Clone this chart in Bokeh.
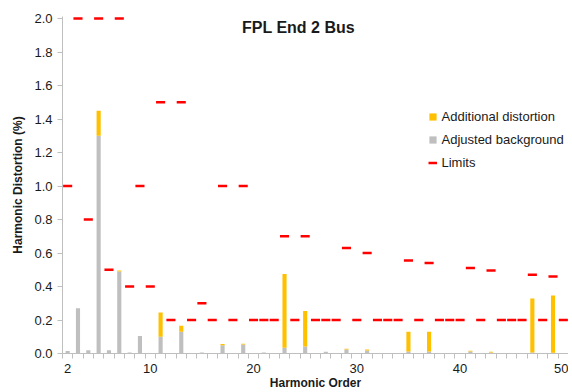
from bokeh.plotting import figure
from bokeh.models import (Range1d, FixedTicker, PrintfTickFormatter, Legend, LegendItem,
                          Label, ColumnDataSource)
from bokeh.embed import file_html
from bokeh.resources import INLINE

# ---- data (harmonic orders 2..50) ----
harmonics = list(range(2, 51))
background = [0.015, 0.27, 0.02, 1.30, 0.02, 0.49, 0.006, 0.105, 0.0, 0.10,
              0.0, 0.13, 0.0, 0.006, 0.003, 0.05, 0.0, 0.054, 0.003, 0.006,
              0.0, 0.035, 0.0, 0.042, 0.003, 0.01, 0.003, 0.024, 0.0, 0.018,
              0.0, 0.003, 0.002, 0.012, 0.0, 0.012, 0.002, 0.0, 0.0, 0.012,
              0.0, 0.006, 0.0, 0.0, 0.0, 0.006, 0.0, 0.004, 0.0]
additional = [0.0, 0.0, 0.0, 0.15, 0.0, 0.005, 0.0, 0.0, 0.0, 0.145,
              0.0, 0.035, 0.0, 0.0, 0.0, 0.006, 0.0, 0.004, 0.0, 0.0,
              0.0, 0.44, 0.0, 0.212, 0.0, 0.0, 0.0, 0.004, 0.0, 0.006,
              0.0, 0.0, 0.0, 0.118, 0.0, 0.118, 0.0, 0.0, 0.0, 0.004,
              0.0, 0.004, 0.0, 0.0, 0.0, 0.322, 0.0, 0.342, 0.0]
limits = [1.0, 2.0, 0.8, 2.0, 0.5, 2.0, 0.4, 1.0, 0.4, 1.5,
          0.2, 1.5, 0.2, 0.3, 0.2, 1.0, 0.2, 1.0, 0.2, 0.2,
          0.2, 0.7, 0.2, 0.7, 0.2, 0.2, 0.2, 0.63, 0.2, 0.6,
          0.2, 0.2, 0.2, 0.555, 0.2, 0.54, 0.2, 0.2, 0.2, 0.51,
          0.2, 0.495, 0.2, 0.2, 0.2, 0.47, 0.2, 0.46, 0.2]
x_tick_labels = [2, 10, 20, 30, 40, 50]
y_ticks = [0.0, 0.2, 0.4, 0.6, 0.8, 1.0, 1.2, 1.4, 1.6, 1.8, 2.0]

FONT = "Liberation Sans"
TXT = "#1a1a1a"
AXIS = "#bfbfbf"
ORANGE = "#ffc000"
GRAY = "#bfbfbf"
RED = "#ff0000"

half = 0.44
src = ColumnDataSource(dict(
    h=harmonics, bg=background, add=additional, lim=limits,
    x0=[h - half for h in harmonics], x1=[h + half for h in harmonics],
))

p = figure(width=568, height=392, output_backend="svg", toolbar_location=None,
           x_range=Range1d(harmonics[0] - 0.5, harmonics[-1] + 0.5),
           y_range=Range1d(0, 2.012),
           min_border_left=62, min_border_right=0, min_border_top=16, min_border_bottom=39)
p.outline_line_color = None
p.xgrid.visible = False
p.ygrid.visible = False
p.background_fill_color = "white"
p.border_fill_color = "white"

bars = p.vbar_stack(["bg", "add"], x="h", width=0.4, color=[GRAY, ORANGE],
                    line_color=None, source=src)
lim_r = p.segment(x0="x0", x1="x1", y0="lim", y1="lim", line_color=RED,
                  line_width=2.5, source=src)

# axes
xa = p.xaxis[0]
xa.ticker = FixedTicker(ticks=x_tick_labels,
                        minor_ticks=[h - 0.5 for h in harmonics] + [harmonics[-1] + 0.5])
xa.axis_line_color = AXIS
xa.major_tick_line_color = None
xa.major_tick_out = 5
xa.major_tick_in = 0
xa.minor_tick_line_color = AXIS
xa.minor_tick_out = 5
xa.minor_tick_in = 0
xa.major_label_standoff = 5
xa.major_label_text_font = FONT
xa.major_label_text_font_size = "13px"
xa.major_label_text_color = TXT
xa.axis_label = "Harmonic Order"
xa.axis_label_text_font = FONT
xa.axis_label_text_font_size = "12px"
xa.axis_label_text_font_style = "bold"
xa.axis_label_text_color = TXT
xa.axis_label_standoff = 0

ya = p.yaxis[0]
ya.ticker = FixedTicker(ticks=y_ticks)
ya.formatter = PrintfTickFormatter(format="%.1f")
ya.axis_line_color = AXIS
ya.major_tick_line_color = AXIS
ya.major_tick_out = 5
ya.major_tick_in = 0
ya.minor_tick_line_color = None
ya.major_label_standoff = 5
ya.major_label_text_font = FONT
ya.major_label_text_font_size = "13px"
ya.major_label_text_color = TXT
ya.axis_label = "Harmonic Distortion (%)"
ya.axis_label_text_font = FONT
ya.axis_label_text_font_size = "12px"
ya.axis_label_text_font_style = "bold"
ya.axis_label_text_color = TXT
ya.axis_label_standoff = 6

title = Label(x=236, y=326, x_units="screen", y_units="screen", text="FPL End 2 Bus",
              text_align="center", text_baseline="middle", text_font=FONT,
              text_font_size="16px", text_font_style="bold", text_color=TXT)
p.add_layout(title)

legend = Legend(items=[
    LegendItem(label="Additional distortion", renderers=[bars[1]]),
    LegendItem(label="Adjusted background", renderers=[bars[0]]),
    LegendItem(label="Limits", renderers=[lim_r]),
], location=(365.5, 183.5))
legend.border_line_color = None
legend.background_fill_alpha = 0
legend.padding = 0
legend.margin = 0
legend.spacing = 8
legend.glyph_width = 9
legend.glyph_height = 9
legend.label_height = 15
legend.label_standoff = 5
legend.label_text_font = FONT
legend.label_text_font_size = "13px"
legend.label_text_color = TXT
p.add_layout(legend)

open("out.html", "w").write(file_html(p, INLINE))
